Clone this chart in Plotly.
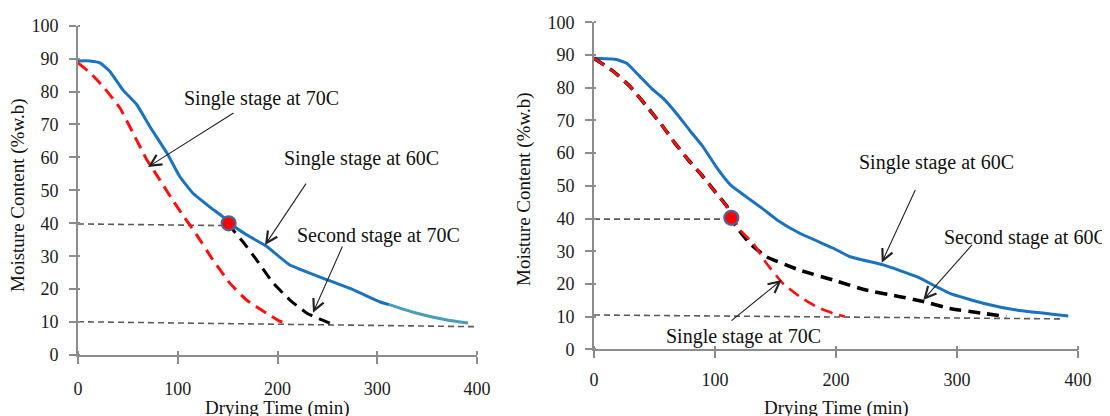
import plotly.graph_objects as go

# ---------------- data ----------------
# Left panel: single stage 60C, single stage 70C, second stage at 70C
left_blue_x = [0, 12, 22, 32, 45, 59, 72, 89, 102, 115, 132, 145, 151, 169, 189, 212, 250, 276, 303, 312]
left_blue_y = [89.3, 89.3, 88.7, 86.1, 80.5, 76.0, 69.4, 61.4, 54.2, 49.2, 45.0, 42.0, 40.3, 36.5, 33.0, 27.4, 22.8, 19.8, 16.1, 15.3]
left_tail_x = [312, 336, 370, 391]
left_tail_y = [15.3, 13.0, 10.6, 9.7]
left_red_x = [0, 12, 25, 42, 55, 69, 82, 95, 105, 119, 135, 152, 169, 189, 202, 209]
left_red_y = [88.7, 85.7, 81.6, 75.0, 67.5, 59.3, 53.2, 47.0, 42.5, 36.5, 29.0, 21.9, 16.7, 12.7, 10.3, 9.7]
left_black_x = [151, 157, 165.5, 179, 195.5, 212.5, 229.5, 242.6, 254.6]
left_black_y = [40, 37.4, 34.3, 28.9, 21.9, 16.7, 12.7, 10.9, 9.4]
left_ref_top_x = [0, 150]
left_ref_top_y = [39.8, 39.3]
left_ref_bot_x = [0, 398]
left_ref_bot_y = [10.1, 8.6]
left_switch_x = [151]
left_switch_y = [40]

# Right panel: single stage 60C, single stage 70C, second stage at 60C
right_blue_x = [0, 17.4, 27, 38, 47.5, 57, 68, 79, 90, 101, 113, 125.6, 139, 151.6, 170, 197.8, 211.6, 239, 266.7, 294, 321.6, 349, 377, 392]
right_blue_y = [89, 88.7, 87.5, 83.4, 79.8, 76.8, 72.2, 67, 62, 55.8, 50.2, 46.7, 43.1, 39.5, 35.5, 30.9, 28.3, 25.8, 22.2, 17.1, 14.1, 12, 10.8, 10.2]
right_red_x = [0, 16.3, 30, 43.8, 56, 67, 78, 89, 100, 110, 113.5, 120.7, 131.6, 142.5, 156, 170, 183.8, 197.5, 207.2]
right_red_y = [89, 84.9, 80.3, 74.2, 68.6, 63, 57.9, 53.3, 48.2, 43.6, 41.5, 36.5, 32.4, 26.3, 20.2, 16.1, 13, 11, 10]
right_black_x = [0, 16.3, 30, 43.8, 56, 67, 78, 89, 100, 110, 113.5, 117.6, 128.7, 142.5, 170, 197.5, 225, 252.8, 272, 294, 321.6, 340.7]
right_black_y = [89, 84.9, 80.3, 74.2, 68.6, 63, 57.9, 53.3, 48.2, 43.6, 40.2, 37.5, 32.4, 28.3, 24.2, 21.2, 18.1, 16.1, 14.6, 12.5, 11, 10]
right_ref_top_x = [0, 112]
right_ref_top_y = [39.8, 39.8]
right_ref_bot_x = [0, 386]
right_ref_bot_y = [10.5, 9.3]
right_switch_x = [113.5]
right_switch_y = [40.2]

x_ticks = [0, 100, 200, 300, 400]
y_ticks = [0, 10, 20, 30, 40, 50, 60, 70, 80, 90, 100]

# annotation labels: (text, text_x, text_y, tail_x, tail_y, head_x, head_y)
left_labels = [
    ("Single stage at 70C", 183.5, 78.0, 157.4, 73.8, 70.2, 57.1),
    ("Single stage at 60C", 284.7, 59.8, 229.6, 52.5, 187.5, 33.4),
    ("Second stage at 70C", 300.8, 36.4, 265.7, 33.4, 235.6, 12.8),
]
right_labels = [
    ("Single stage at 60C", 283.2, 57.1, 266.1, 49.2, 237.8, 26.5),
    ("Second stage at 60C", 357.0, 34.3, 313.5, 32.4, 272.1, 15.1),
    ("Single stage at 70C", 123.6, 3.85, 112.4, 8.4, 155.1, 21.2),
]

# ---------------- styles ----------------
FONT = "Liberation Serif"
BLUE = "#1B72BD"
TEAL = "#4A9DB6"
RED = "#FF1010"
BLACK = "#000000"
REF = "#5A5A5A"
DASH = "12px,7px"

fig = go.Figure()


def add_panel(xa, ya, blue, tail, red, black, ref_top, ref_bot, sw, black_under=False):
    for (xs, ys) in (ref_top, ref_bot):
        fig.add_trace(go.Scatter(x=xs, y=ys, mode="lines", xaxis=xa, yaxis=ya,
                                 line=dict(color=REF, width=1.6, dash="6px,4px")))
    fig.add_trace(go.Scatter(x=blue[0], y=blue[1], mode="lines", xaxis=xa, yaxis=ya,
                             line=dict(color=BLUE, width=3, shape="spline", smoothing=0.4)))
    if tail is not None:
        fig.add_trace(go.Scatter(x=tail[0], y=tail[1], mode="lines", xaxis=xa, yaxis=ya,
                                 line=dict(color=TEAL, width=3, shape="spline", smoothing=0.4)))
    if black_under:
        fig.add_trace(go.Scatter(x=black[0], y=black[1], mode="lines", xaxis=xa, yaxis=ya,
                                 line=dict(color=BLACK, width=3.6, dash=DASH, shape="spline", smoothing=0.4)))
        fig.add_trace(go.Scatter(x=red[0], y=red[1], mode="lines", xaxis=xa, yaxis=ya,
                                 line=dict(color=RED, width=2.6, dash=DASH, shape="spline", smoothing=0.4)))
    else:
        fig.add_trace(go.Scatter(x=red[0], y=red[1], mode="lines", xaxis=xa, yaxis=ya,
                                 line=dict(color=RED, width=3, dash=DASH, shape="spline", smoothing=0.4)))
        fig.add_trace(go.Scatter(x=black[0], y=black[1], mode="lines", xaxis=xa, yaxis=ya,
                                 line=dict(color=BLACK, width=3, dash=DASH, shape="spline", smoothing=0.4)))
    fig.add_trace(go.Scatter(x=sw[0], y=sw[1], mode="markers", xaxis=xa, yaxis=ya,
                             marker=dict(color="#FF0000", size=14,
                                         line=dict(color="#4F6494", width=2.2))))


add_panel("x", "y", (left_blue_x, left_blue_y), (left_tail_x, left_tail_y),
          (left_red_x, left_red_y), (left_black_x, left_black_y),
          (left_ref_top_x, left_ref_top_y), (left_ref_bot_x, left_ref_bot_y),
          (left_switch_x, left_switch_y))
add_panel("x2", "y2", (right_blue_x, right_blue_y), None,
          (right_red_x, right_red_y), (right_black_x, right_black_y),
          (right_ref_top_x, right_ref_top_y), (right_ref_bot_x, right_ref_bot_y),
          (right_switch_x, right_switch_y), black_under=True)

# the page body has an 8px margin; size the figure so it fills the window exactly
OFF = 8
W, H = 1110 - OFF, 416 - OFF


def fx(px):
    return (px - OFF) / W


def fy(py):
    return (H - (py - OFF)) / H


annotations = []
for labels, xr, yr in ((left_labels, "x", "y"), (right_labels, "x2", "y2")):
    for (txt, tx, ty, ax, ay, hx, hy) in labels:
        annotations.append(dict(text=txt, x=tx, y=ty, xref=xr, yref=yr, showarrow=False,
                                font=dict(family=FONT, size=20, color="#111111")))
        annotations.append(dict(text="", x=hx, y=hy, ax=ax, ay=ay, xref=xr, yref=yr,
                                axref=xr, ayref=yr, showarrow=True, arrowhead=5,
                                arrowsize=2.0, arrowwidth=1.1, arrowcolor="#222222"))

# axis titles
for (px, py, ang, txt) in ((18, 195, -90, "Moisture Content (%w.b)"),
                           (524, 189, -90, "Moisture Content (%w.b)"),
                           (277, 408, 0, "Drying Time (min)"),
                           (836, 408, 0, "Drying Time (min)")):
    annotations.append(dict(text=txt, x=fx(px), y=fy(py), xref="paper", yref="paper",
                            showarrow=False, textangle=ang, xanchor="center", yanchor="middle",
                            font=dict(family=FONT, size=19, color="#111111")))

axis_common = dict(showline=True, linecolor="#8C8C8C", linewidth=1.6, showgrid=False,
                   zeroline=False, ticks="outside", ticklen=7, tickwidth=1.5, automargin=False,
                   tickcolor="#8C8C8C", tickfont=dict(family=FONT, size=18, color="#1A1A1A"))

fig.update_layout(
    width=W, height=H, margin=dict(l=0, r=0, t=0, b=0, autoexpand=False),
    paper_bgcolor="white", plot_bgcolor="white", showlegend=False,
    annotations=annotations,
    xaxis=dict(domain=[fx(78), fx(477)], range=[0, 400], tickvals=x_ticks, anchor="y",
               ticklabelstandoff=10,
               minor=dict(tickvals=x_ticks, ticks="inside", ticklen=4, tickwidth=1.5, tickcolor="#8C8C8C"),
               **axis_common),
    yaxis=dict(domain=[fy(355), fy(25.7)], range=[0, 100], tickvals=y_ticks, anchor="x",
               ticklabelstandoff=7,
               minor=dict(tickvals=y_ticks, ticks="inside", ticklen=2, tickwidth=1.5, tickcolor="#8C8C8C"),
               **axis_common),
    xaxis2=dict(domain=[fx(594), fx(1078)], range=[0, 400], tickvals=x_ticks, anchor="y2",
                ticklabelstandoff=6,
                minor=dict(tickvals=x_ticks, ticks="inside", ticklen=4, tickwidth=1.5, tickcolor="#8C8C8C"),
                **axis_common),
    yaxis2=dict(domain=[fy(349.3), fy(22.3)], range=[0, 100], tickvals=y_ticks, anchor="x2",
                ticklabelstandoff=7,
                minor=dict(tickvals=y_ticks, ticks="inside", ticklen=2, tickwidth=1.5, tickcolor="#8C8C8C"),
                **axis_common),
)

fig.write_html("out.html")
